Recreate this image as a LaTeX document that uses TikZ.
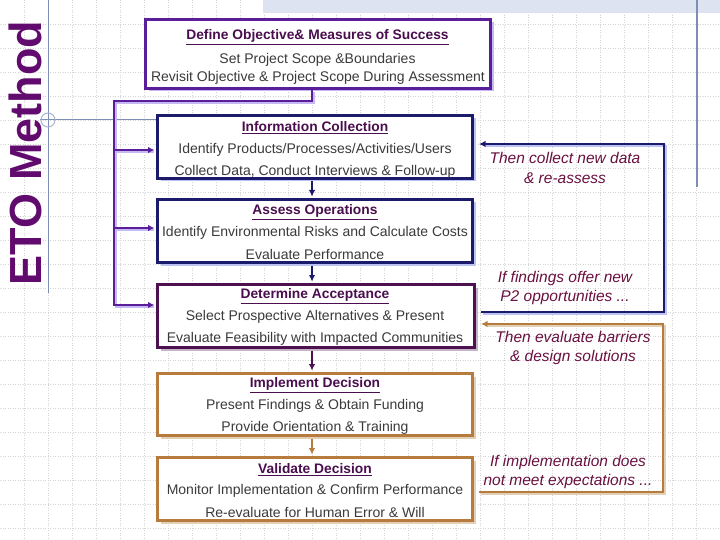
\documentclass[tikz,border=0pt]{standalone}
\usepackage{fontspec}
\setmainfont{Liberation Sans}
\usetikzlibrary{arrows.meta,shadows}
\definecolor{ttlc}{HTML}{4A0E4E}
\definecolor{bodyc}{HTML}{3A3A3A}
\definecolor{purp}{HTML}{5B1E9B}
\definecolor{purpsh}{HTML}{C6B8F2}
\definecolor{navyc}{HTML}{1C1A6B}
\definecolor{navysh}{HTML}{BCC2F4}
\definecolor{dpurp}{HTML}{4E1150}
\definecolor{dpurpsh}{HTML}{C4B4C6}
\definecolor{brownc}{HTML}{B87B3E}
\definecolor{brownsh}{HTML}{E2D0B6}
\definecolor{italc}{HTML}{6A1040}
\definecolor{etoc}{HTML}{620B6E}
\definecolor{guide}{HTML}{7D8DB3}
\definecolor{guidel}{HTML}{A8B6D4}
\definecolor{gridc}{HTML}{D4D4D4}
\definecolor{bandc}{HTML}{DDE3F1}
\tikzset{
  box/.style={draw, fill=white, line width=3pt, inner sep=0pt},
  sh/.style={drop shadow={shadow xshift=3pt, shadow yshift=-3pt, fill=#1, opacity=1}},
  ttl/.style={inner sep=0pt, text=ttlc, font=\bfseries\fontsize{13.8}{16}\selectfont},
  bdy/.style={inner sep=0pt, text=bodyc, font=\fontsize{14}{16}\selectfont},
  itl/.style={inner sep=0pt, text=italc, align=center, font=\itshape\fontsize{15.5}{19.5}\selectfont},
  conn/.style={line width=2.6pt},
  tip/.style={-{Latex[length=6.5pt,width=6.5pt]}},
  gridline/.style={gridc, line width=0.7pt, dash pattern=on 1pt off 1.5pt},
}
\begin{document}
\begin{tikzpicture}[x=1pt,y=-1pt]
\useasboundingbox (0,0) rectangle (720,540);
\fill[white] (0,0) rectangle (720,540);
% background grid
\foreach \x in {24,48,...,720} \draw[gridline] (\x,0) -- (\x,540);
\foreach \y in {24,48,...,540} \draw[gridline] (0,\y) -- (720,\y);
\fill[bandc] (263,0) rectangle (720,13);
% guide lines
\draw[guide, line width=1pt] (48,0) -- (48,293);
\draw[guide, line width=1pt] (40,120) -- (156,120);
\draw[guidel, line width=1pt] (48,120) circle (7);
\draw[guide, line width=1.2pt] (697,0) -- (697,187);

% title
\node[rotate=90, text=etoc, inner sep=0pt, font=\bfseries\fontsize{45}{50}\selectfont] (eto) at (25,153) {ETO Method};

% boxes
\node[box, draw=purp, sh=purpsh, minimum width=345, minimum height=69] (b1) at (318,54) {};
\node[box, draw=navyc, sh=navysh, minimum width=315, minimum height=63] (b2) at (315,147) {};
\node[box, draw=navyc, sh=navysh, minimum width=315, minimum height=63] (b3) at (315,231) {};
\node[box, draw=dpurp, sh=dpurpsh, minimum width=317, minimum height=63] (b4) at (316,316) {};
\node[box, draw=brownc, sh=brownsh, minimum width=315, minimum height=62] (b5) at (315,404.5) {};
\node[box, draw=brownc, sh=brownsh, minimum width=315, minimum height=63] (b6) at (315,489) {};

% box texts
\node[ttl] (b1t) at (317.5,37) {\underline{Define Objective\& Measures of Success}};
\node[bdy] (b1a) at (317.5,60) {Set Project Scope \&Boundaries};
\node[bdy] (b1b) at (318,78) {Revisit Objective \& Project Scope During Assessment};

\node[ttl] (b2t) at (315,128) {\underline{Information Collection}};
\node[bdy] (b2a) at (315,150) {Identify Products/Processes/Activities/Users};
\node[bdy] (b2b) at (315,171.5) {Collect Data, Conduct Interviews \& Follow-up};

\node[ttl] (b3t) at (315,212) {\underline{Assess Operations}};
\node[bdy] (b3a) at (315,233) {Identify Environmental Risks and Calculate Costs};
\node[bdy] (b3b) at (315,254.5) {Evaluate Performance};

\node[ttl] (b4t) at (315,296) {\underline{Determine Acceptance}};
\node[bdy] (b4a) at (315,317) {Select Prospective Alternatives \& Present};
\node[bdy] (b4b) at (315,338.5) {Evaluate Feasibility with Impacted Communities};

\node[ttl] (b5t) at (315,385) {\underline{Implement Decision}};
\node[bdy] (b5a) at (315,406) {Present Findings \& Obtain Funding};
\node[bdy] (b5b) at (315,427.5) {Provide Orientation \& Training};

\node[ttl] (b6t) at (315,470) {\underline{Validate Decision}};
\node[bdy] (b6a) at (315,491) {Monitor Implementation \& Confirm Performance};
\node[bdy] (b6b) at (315,512.5) {Re-evaluate for Human Error \& Will};

% right-side texts
\node[itl] (r1) at (565,168) {Then collect new data\\\& re-assess};
\node[itl] (r2) at (565,288) {If findings offer new\\P2 opportunities ...};
\node[itl] (r3) at (573,348) {Then evaluate barriers\\\& design solutions};
\node[itl] (r4) at (568,472) {If implementation does\\not meet expectations ...};

% left bracket connector
\coordinate (bt) at (114,101);
\coordinate (bb) at (114,305);
\coordinate (br2) at (114,150);
\coordinate (br3) at (114,228);
\begin{scope}[transform canvas={xshift=2pt,yshift=-2pt}]
\draw[conn, purpsh] ([xshift=-6pt]b1.south) |- (bt) -- (bb) -- ([yshift=11pt,xshift=-4pt]b4.west);
\draw[conn, purpsh] (br2) -- ([yshift=-3pt,xshift=-4pt]b2.west);
\draw[conn, purpsh] (br3) -- ([yshift=3pt,xshift=-4pt]b3.west);
\end{scope}
\draw[conn, purp, tip] ([xshift=-6pt]b1.south) |- (bt) -- (bb) -- ([yshift=11pt,xshift=-1.5pt]b4.west);
\draw[conn, purp, tip] (br2) -- ([yshift=-3pt,xshift=-1.5pt]b2.west);
\draw[conn, purp, tip] (br3) -- ([yshift=3pt,xshift=-1.5pt]b3.west);

% vertical arrows
\draw[conn, navyc, tip] ([xshift=-3pt,yshift=-1.5pt]b2.south) -- ([xshift=-3pt,yshift=1.5pt]b3.north);
\draw[conn, navyc, tip] ([xshift=-3pt,yshift=-1.5pt]b3.south) -- ([xshift=-4pt,yshift=1.5pt]b4.north);
\draw[conn, dpurp, tip] ([xshift=-4pt,yshift=-1.5pt]b4.south) -- ([xshift=-3pt,yshift=1.5pt]b5.north);
\draw[conn, brownc, tip] ([xshift=-3pt,yshift=-1.5pt]b5.south) -- ([xshift=-3pt,yshift=1.5pt]b6.north);

% feedback loops
\coordinate (n1) at (664,144);
\coordinate (n2) at (664,312);
\coordinate (m1) at (663,324);
\coordinate (m2) at (663,492);
\begin{scope}[transform canvas={xshift=2pt,yshift=-2pt}]
\draw[conn, navysh] ([xshift=5pt,yshift=4pt]b4.east) -- (n2) -- (n1) -- ([xshift=10pt,yshift=3pt]b2.east);
\draw[conn, brownsh] ([xshift=5pt,yshift=-3pt]b6.east) -- (m2) -- (m1) -- ([xshift=10pt,yshift=-8pt]b4.east);
\end{scope}
\draw[conn, navyc, tip] ([xshift=5pt,yshift=4pt]b4.east) -- (n2) -- (n1) -- ([xshift=5pt,yshift=3pt]b2.east);
\draw[conn, brownc, tip] ([xshift=5pt,yshift=-3pt]b6.east) -- (m2) -- (m1) -- ([xshift=5pt,yshift=-8pt]b4.east);
\end{tikzpicture}
\end{document}
